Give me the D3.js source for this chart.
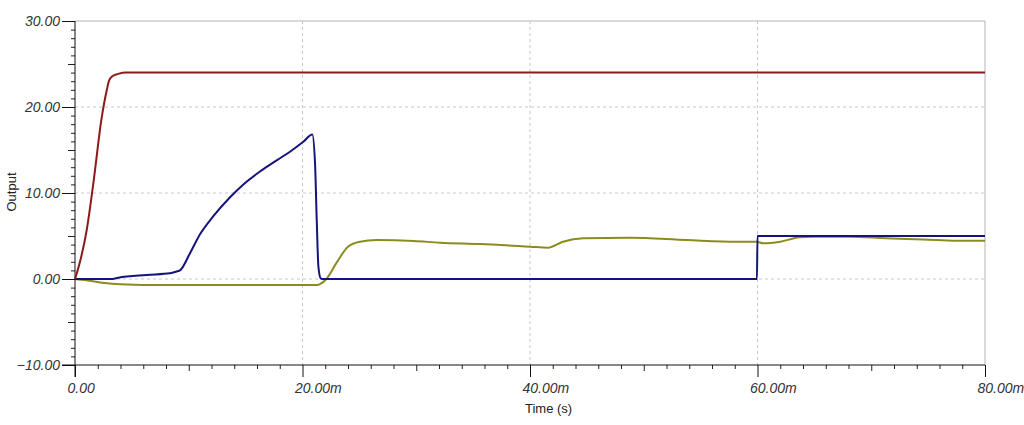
<!DOCTYPE html>
<html>
<head>
<meta charset="utf-8">
<script src="https://cdn.jsdelivr.net/npm/d3@7"></script>
<style>
  body { margin: 0; background: #fff; }
  svg { display: block; font-family: "Liberation Sans", Arial, sans-serif; }
</style>
</head>
<body>
<script>
var w = 1024;
var h = 425;

// time in ms, output value
var supply = [[0, 0], [0.44, 2.0], [1.03, 5.7], [1.61, 11.1], [2.34, 18.7], [2.8, 22.0],
    [3.0, 23.1], [3.3, 23.6], [3.8, 23.85], [4.5, 24.0], [80, 24.0]];

var ramp = [[0, 0], [3.3, 0], [3.8, 0.15], [6.3, 0.47], [8.35, 0.66], [9.0, 0.9], [9.23, 1.0],
    [10.11, 3.0], [10.99, 5.2], [12.16, 7.3], [13.63, 9.5], [14.8, 11.0], [16.26, 12.5],
    [17.73, 13.8], [18.9, 14.8], [20.07, 15.95], [20.86, 16.8], [21.1, 13.5], [21.25, 6.9],
    [21.4, 1.4], [21.6, 0.08], [21.8, 0], [59.95, 0], [60.0, 5.0], [80, 5.0]];

var outp = [[0, 0], [1.0, -0.15], [2.0, -0.35], [2.8, -0.5], [4.0, -0.6], [7.8, -0.7],
    [21.3, -0.7], [21.6, -0.55], [22.1, 0], [23.0, 1.9], [24.0, 3.76], [25.05, 4.34],
    [26.5, 4.53], [29.8, 4.42], [32.1, 4.22], [35.6, 4.07], [40.0, 3.76], [41.6, 3.64],
    [42.9, 4.34], [44.7, 4.73], [48.8, 4.8], [53.8, 4.53], [58.2, 4.34], [59.9, 4.34],
    [60.5, 4.15], [62.0, 4.34], [63.7, 4.85], [64.9, 4.92], [68.1, 4.92], [71.3, 4.73],
    [74.6, 4.6], [77.5, 4.45], [80, 4.45]];

var xTicks = [0, 20, 40, 60, 80];
var yTicks = [-10, 0, 10, 20, 30];

var padLeft = 75, padRight = 985, padTop = 21, padBottom = 365;

var xScale = d3.scaleLinear().domain([0, 80]).range([padLeft, padRight]);
var yScale = d3.scaleLinear().domain([-10, 30]).range([padBottom, padTop]);

var svg = d3.select("body").append("svg")
    .attr("width", w)
    .attr("height", h);

// grid
svg.append("g").selectAll("line")
    .data(yTicks.filter(d => d > -10 && d < 30))
    .enter().append("line")
    .attr("x1", padLeft).attr("x2", padRight)
    .attr("y1", d => yScale(d)).attr("y2", d => yScale(d))
    .attr("stroke", "#c8c8c8").attr("stroke-dasharray", "3,3");

svg.append("g").selectAll("line")
    .data(xTicks.filter(d => d > 0 && d < 80))
    .enter().append("line")
    .attr("y1", padTop).attr("y2", padBottom)
    .attr("x1", d => xScale(d)).attr("x2", d => xScale(d))
    .attr("stroke", "#c8c8c8").attr("stroke-dasharray", "3,3");

// frame top / right
svg.append("line").attr("x1", padLeft).attr("x2", padRight).attr("y1", padTop).attr("y2", padTop)
    .attr("stroke", "#b4b4b4");
svg.append("line").attr("x1", padRight).attr("x2", padRight).attr("y1", padTop).attr("y2", padBottom)
    .attr("stroke", "#b4b4b4");

// minor ticks
var yMinor = d3.range(-10, 31, 1).filter(d => d % 10 != 0);
svg.append("g")
    .attr("transform", `translate(${padLeft},0)`)
    .call(d3.axisLeft(yScale).tickValues(yMinor)
        .tickSize(0).tickFormat(""))
    .call(g => g.select(".domain").remove())
    .call(g => g.selectAll(".tick line")
        .attr("x2", d => (Math.abs(d) % 10 == 5) ? -7 : -4)
        .attr("stroke", "#222"));

var xMinor = d3.range(0, 81, 2).filter(d => d % 20 != 0);
svg.append("g")
    .attr("transform", `translate(0,${padBottom})`)
    .call(d3.axisBottom(xScale).tickValues(xMinor)
        .tickSize(0).tickFormat(""))
    .call(g => g.select(".domain").remove())
    .call(g => g.selectAll(".tick line")
        .attr("y2", d => (d % 20 == 10) ? 6 : 4)
        .attr("stroke", "#222"));

// major axes
var yAxis = d3.axisLeft(yScale)
    .tickValues(yTicks)
    .tickSize(13)
    .tickSizeOuter(0)
    .tickPadding(2)
    .tickFormat(d3.format(".2f"));

svg.append("g")
    .attr("transform", `translate(${padLeft},0)`)
    .call(yAxis)
    .call(g => g.select(".domain").attr("d", `M0,${padTop}V${padBottom + 12}`).attr("stroke", "#111"))
    .call(g => g.selectAll(".tick line").attr("stroke", "#111"))
    .call(g => g.selectAll(".tick text")
        .attr("font-size", 14)
        .attr("font-style", "italic")
        .attr("fill", "#333")
        .attr("dy", "0.34em"));

var xAxis = d3.axisBottom(xScale)
    .tickValues(xTicks)
    .tickSize(12)
    .tickSizeOuter(0)
    .tickFormat(d => d == 0 ? "0.00" : d3.format(".2f")(d) + "m");

svg.append("g")
    .attr("transform", `translate(0,${padBottom})`)
    .call(xAxis)
    .call(g => g.select(".domain").attr("d", `M${padLeft - 13},0H${padRight}`).attr("stroke", "#111"))
    .call(g => g.selectAll(".tick line").attr("stroke", "#111"))
    .call(g => g.selectAll(".tick text")
        .attr("font-size", 14)
        .attr("font-style", "italic")
        .attr("fill", "#333")
        .attr("text-anchor", "start")
        .attr("x", -8)
        .attr("y", 28)
        .attr("dy", 0));

// axis titles
svg.append("text")
    .attr("x", 525).attr("y", 413)
    .attr("font-size", 13)
    .attr("fill", "#222")
    .text("Time (s)");

svg.append("text")
    .attr("transform", "translate(16,192) rotate(-90)")
    .attr("text-anchor", "middle")
    .attr("font-size", 13)
    .attr("fill", "#222")
    .text("Output");

// curves
var line = d3.line()
    .x(d => xScale(d[0]))
    .y(d => yScale(d[1]))
    .curve(d3.curveMonotoneX);

svg.append("path").datum(outp)
    .attr("d", line).attr("fill", "none")
    .attr("stroke", "#8c8c1e").attr("stroke-width", 2);

svg.append("path").datum(ramp)
    .attr("d", line).attr("fill", "none")
    .attr("stroke", "#14147a").attr("stroke-width", 2);

svg.append("path").datum(supply)
    .attr("d", line).attr("fill", "none")
    .attr("stroke", "#8b1a1a").attr("stroke-width", 2);
</script>
</body>
</html>
